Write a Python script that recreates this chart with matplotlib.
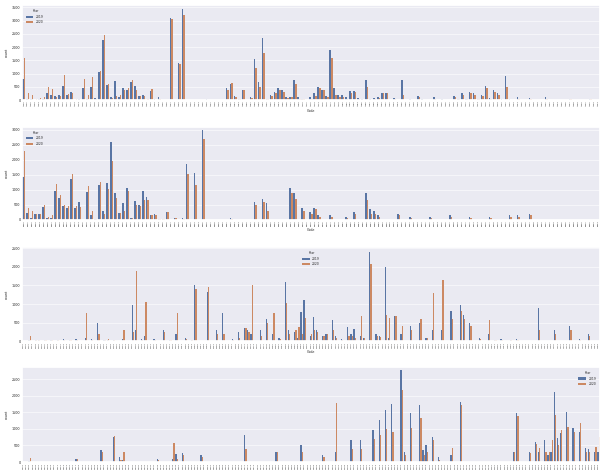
import matplotlib
matplotlib.use("Agg")
import matplotlib.pyplot as plt
import pandas as pd
import seaborn as sns

sns.set_theme(style="darkgrid")
plt.rcParams['font.family'] = ['DejaVu Sans']

years = ['2019', '2020']

# panel 1
p1_a = [790, 40, 30, 20, 30, 60, 260, 190, 160, 180,
        520, 190, 300, 20, 30, 460, 60, 500, 80, 1050,
        2250, 580, 100, 710, 100, 450, 400, 700, 530, 150,
        180, 20, 350, 40, 100, 0, 0, 3100, 0, 1400,
        3450, 0, 0, 10, 0, 0, 60, 0, 0, 0,
        20, 460, 600, 150, 40, 380, 20, 100, 1540, 700,
        2330, 50, 200, 300, 450, 380, 100, 130, 740, 100,
        50, 0, 100, 280, 500, 400, 150, 1900, 450, 200,
        200, 100, 330, 350, 80, 30, 750, 30, 80, 120,
        280, 250, 20, 80, 0, 750, 20, 40, 0, 150,
        30, 0, 20, 100, 0, 30, 0, 20, 150, 40,
        250, 60, 300, 280, 50, 200, 550, 80, 400, 250,
        30, 900, 40, 20, 100, 0, 20, 80, 10, 0,
        20, 100, 0, 10, 0, 20, 0, 50, 0, 10,
        0, 20, 60, 0, 10]
p1_b = [1600, 260, 180, 50, 90, 110, 480, 420, 130, 150,
        960, 230, 250, 40, 20, 790, 200, 860, 60, 1100,
        2450, 590, 80, 150, 200, 400, 450, 750, 400, 150,
        160, 30, 420, 20, 40, 0, 10, 3050, 0, 1350,
        3200, 0, 0, 0, 0, 0, 20, 0, 10, 0,
        10, 390, 650, 120, 30, 400, 10, 80, 1200, 500,
        1760, 30, 160, 250, 400, 300, 80, 100, 600, 60,
        40, 10, 60, 150, 450, 400, 100, 1580, 200, 100,
        130, 60, 250, 300, 40, 20, 500, 20, 50, 80,
        280, 250, 10, 50, 10, 200, 10, 20, 10, 100,
        20, 10, 10, 60, 0, 10, 0, 10, 100, 30,
        200, 40, 250, 200, 30, 150, 450, 60, 300, 200,
        20, 500, 20, 10, 60, 10, 0, 50, 0, 10,
        10, 60, 0, 0, 10, 0, 0, 30, 0, 0,
        10, 0, 40, 0, 10]

# panel 2
p2_a = [1440, 230, 60, 200, 200, 430, 50, 80, 970, 730,
        470, 400, 1370, 400, 600, 0, 940, 150, 30, 1170,
        300, 1230, 2610, 900, 230, 550, 1070, 80, 630, 500,
        970, 770, 150, 200, 30, 30, 250, 0, 80, 0,
        80, 1860, 0, 1580, 0, 3000, 0, 0, 0, 0,
        0, 0, 60, 0, 0, 0, 0, 0, 600, 0,
        700, 550, 0, 0, 0, 0, 0, 1050, 900, 0,
        400, 0, 250, 400, 150, 0, 0, 150, 0, 0,
        0, 100, 0, 250, 0, 0, 900, 350, 300, 150,
        0, 0, 0, 0, 200, 0, 0, 100, 0, 0,
        0, 0, 100, 0, 0, 0, 0, 150, 0, 0,
        0, 0, 100, 0, 0, 0, 0, 100, 0, 0,
        0, 0, 150, 0, 150, 0, 0, 200, 0, 0,
        0, 0, 0, 0, 0, 0, 0, 0, 0, 0,
        0, 0, 0, 0, 0]
p2_b = [2300, 400, 300, 200, 200, 500, 100, 150, 1200, 830,
        500, 450, 1530, 470, 430, 0, 1130, 300, 20, 1280,
        200, 1030, 1970, 730, 230, 300, 970, 80, 500, 470,
        670, 670, 150, 150, 20, 20, 250, 0, 80, 0,
        20, 1530, 0, 1170, 0, 2700, 0, 0, 0, 0,
        0, 0, 40, 0, 0, 0, 0, 0, 500, 0,
        600, 300, 0, 0, 0, 0, 0, 900, 700, 0,
        300, 0, 200, 350, 100, 0, 0, 100, 0, 0,
        0, 60, 0, 200, 0, 0, 650, 200, 200, 100,
        0, 0, 0, 0, 150, 0, 0, 60, 0, 0,
        0, 0, 60, 0, 0, 0, 0, 100, 0, 0,
        0, 0, 60, 0, 0, 0, 0, 60, 0, 0,
        0, 0, 100, 0, 100, 0, 0, 150, 0, 0,
        0, 0, 0, 0, 0, 0, 0, 0, 0, 0,
        0, 0, 0, 0, 0]

# panel 3
p3_a = [0, 0, 40, 0, 20, 20, 0, 30, 0, 30,
        0, 40, 0, 60, 0, 20, 0, 50, 0, 0,
        100, 0, 60, 0, 480, 0, 30, 40, 0, 20,
        0, 0, 50, 0, 0, 970, 300, 0, 60, 150,
        0, 0, 60, 0, 0, 300, 0, 40, 0, 200,
        0, 0, 80, 0, 30, 1500, 0, 0, 0, 1330,
        0, 0, 300, 0, 760, 0, 0, 60, 0, 250,
        0, 350, 300, 200, 0, 0, 300, 0, 600, 0,
        200, 0, 80, 0, 1600, 300, 0, 250, 100, 790,
        1100, 0, 150, 640, 300, 0, 150, 200, 0, 560,
        150, 0, 60, 0, 380, 200, 330, 0, 150, 100,
        0, 2400, 0, 200, 150, 0, 2000, 100, 0, 670,
        0, 200, 0, 0, 400, 0, 0, 500, 0, 100,
        0, 300, 0, 0, 300, 0, 0, 800, 0, 0,
        970, 700, 0, 500, 0, 0, 100, 0, 0, 200,
        0, 30, 0, 60, 0, 0, 40, 0, 50, 0,
        0, 0, 0, 0, 0, 890, 0, 0, 0, 0,
        300, 0, 0, 0, 0, 400, 0, 0, 60, 0,
        0, 200, 0, 0, 0]
p3_b = [0, 0, 150, 0, 30, 40, 0, 20, 0, 20,
        0, 30, 0, 40, 0, 30, 0, 40, 0, 0,
        750, 0, 40, 0, 200, 0, 20, 60, 0, 30,
        0, 0, 300, 0, 0, 250, 1880, 0, 40, 1050,
        0, 0, 40, 0, 0, 250, 0, 30, 0, 750,
        0, 0, 60, 0, 20, 1400, 0, 0, 0, 1460,
        0, 0, 200, 0, 200, 0, 0, 40, 0, 100,
        0, 350, 250, 1500, 0, 0, 150, 0, 500, 0,
        750, 0, 60, 0, 1030, 200, 0, 300, 380, 200,
        620, 0, 200, 300, 250, 0, 150, 200, 0, 300,
        100, 0, 40, 0, 150, 150, 100, 0, 670, 100,
        0, 2070, 0, 150, 120, 0, 700, 620, 0, 670,
        0, 400, 0, 0, 300, 0, 0, 600, 0, 80,
        0, 1300, 0, 0, 1650, 0, 0, 600, 0, 0,
        800, 600, 0, 400, 0, 0, 60, 0, 0, 560,
        0, 20, 0, 40, 0, 0, 30, 0, 30, 0,
        0, 0, 0, 0, 0, 300, 0, 0, 0, 0,
        200, 0, 0, 0, 0, 300, 0, 0, 40, 0,
        0, 150, 0, 0, 0]

# panel 4
p4_a = [0, 0, 40, 0, 0, 0, 0, 0, 0, 0,
        0, 0, 0, 0, 0, 0, 0, 100, 0, 0,
        0, 0, 0, 0, 0, 360, 0, 0, 0, 760,
        0, 150, 50, 0, 0, 0, 0, 0, 0, 0,
        0, 0, 0, 100, 0, 0, 0, 0, 100, 250,
        0, 270, 0, 0, 0, 0, 0, 200, 0, 0,
        0, 0, 0, 0, 0, 0, 0, 0, 0, 0,
        0, 800, 0, 0, 0, 0, 0, 0, 0, 0,
        0, 300, 0, 0, 0, 0, 0, 0, 0, 500,
        0, 0, 0, 0, 0, 0, 200, 0, 0, 0,
        300, 0, 0, 0, 0, 660, 0, 0, 660, 0,
        0, 0, 960, 0, 1260, 0, 1560, 0, 1750, 0,
        0, 2770, 300, 0, 1470, 0, 0, 1720, 360, 500,
        0, 750, 0, 150, 0, 0, 0, 200, 0, 0,
        1820, 0, 0, 0, 0, 0, 0, 0, 0, 0,
        0, 0, 0, 0, 0, 0, 0, 300, 1470, 0,
        0, 0, 300, 0, 610, 300, 0, 660, 200, 300,
        2120, 720, 870, 0, 1510, 0, 1020, 0, 910, 0,
        420, 390, 0, 300, 300]
p4_b = [0, 0, 130, 0, 0, 0, 0, 0, 0, 0,
        0, 0, 0, 0, 0, 0, 0, 80, 0, 0,
        0, 0, 0, 0, 0, 300, 0, 0, 0, 780,
        0, 60, 300, 0, 0, 0, 0, 0, 0, 0,
        0, 0, 0, 50, 0, 0, 0, 0, 570, 100,
        0, 200, 0, 0, 0, 0, 0, 150, 0, 0,
        0, 0, 0, 0, 0, 0, 0, 0, 0, 0,
        0, 400, 0, 0, 0, 0, 0, 0, 0, 0,
        0, 300, 0, 0, 0, 0, 0, 0, 0, 300,
        0, 0, 0, 0, 0, 0, 150, 0, 0, 0,
        1780, 0, 0, 0, 0, 400, 0, 0, 400, 0,
        0, 0, 700, 0, 800, 0, 1000, 0, 900, 0,
        0, 2170, 200, 0, 1020, 0, 0, 1320, 200, 300,
        0, 660, 0, 60, 0, 0, 0, 420, 0, 0,
        1720, 0, 0, 0, 0, 0, 0, 0, 0, 0,
        0, 0, 0, 0, 0, 0, 0, 300, 1400, 0,
        0, 0, 270, 0, 530, 420, 0, 300, 300, 650,
        1410, 500, 950, 0, 1060, 0, 910, 0, 1170, 0,
        300, 300, 0, 450, 760]

# category codes (unreadable in the source, numbered in order)
codes_1 = ['A%03d' % i for i in range(len(p1_a))]
codes_2 = ['B%03d' % i for i in range(len(p2_a))]
codes_3 = ['C%03d' % i for i in range(len(p3_a))]
codes_4 = ['D%03d' % i for i in range(len(p4_a))]

panels = [
    (codes_1, p1_a, p1_b, 3580, 'upper left', True),
    (codes_2, p2_a, p2_b, 3100, 'upper left', True),
    (codes_3, p3_a, p3_b, 2530, 'upper center', True),
    (codes_4, p4_a, p4_b, 2860, 'upper right', False),  # xlabel falls off the page
]

# axes rectangles in figure fractions (left, bottom, width, height)
rects = [
    (0.036, 0.787, 0.951, 0.202),
    (0.036, 0.532, 0.951, 0.198),
    (0.036, 0.274, 0.951, 0.200),
    (0.036, 0.017, 0.951, 0.202),
]

fig = plt.figure(figsize=(6.08, 4.70), dpi=100)

for (codes, a, b, ymax, loc, show_xlabel), rect in zip(panels, rects):
    ax = fig.add_axes(rect)
    df = pd.DataFrame({
        'Code': codes + codes,
        'count': a + b,
        'Year': [years[0]] * len(codes) + [years[1]] * len(codes),
    })
    sns.barplot(data=df, x='Code', y='count', hue='Year', ax=ax,
                errorbar=None, linewidth=0)
    ax.set_ylim(0, ymax)
    ax.set_xlim(-0.5, len(codes) - 0.5)
    ax.tick_params(axis='x', labelsize=1.6, rotation=90, pad=0.5, length=0)
    ax.tick_params(axis='y', labelsize=2.4, pad=1, length=0)
    ax.set_xlabel('Code' if show_xlabel else '', fontsize=2.4, labelpad=1.5)
    ax.set_ylabel('count', fontsize=2.4, labelpad=2)
    ax.grid(False, axis='x')
    ax.grid(True, axis='y', color='white', linewidth=0.4)
    ax.legend(loc=loc, title='Year', fontsize=2.2, title_fontsize=2.2,
              frameon=False, handlelength=2.5, borderpad=0.8)

fig.savefig('out.png', dpi=100)
